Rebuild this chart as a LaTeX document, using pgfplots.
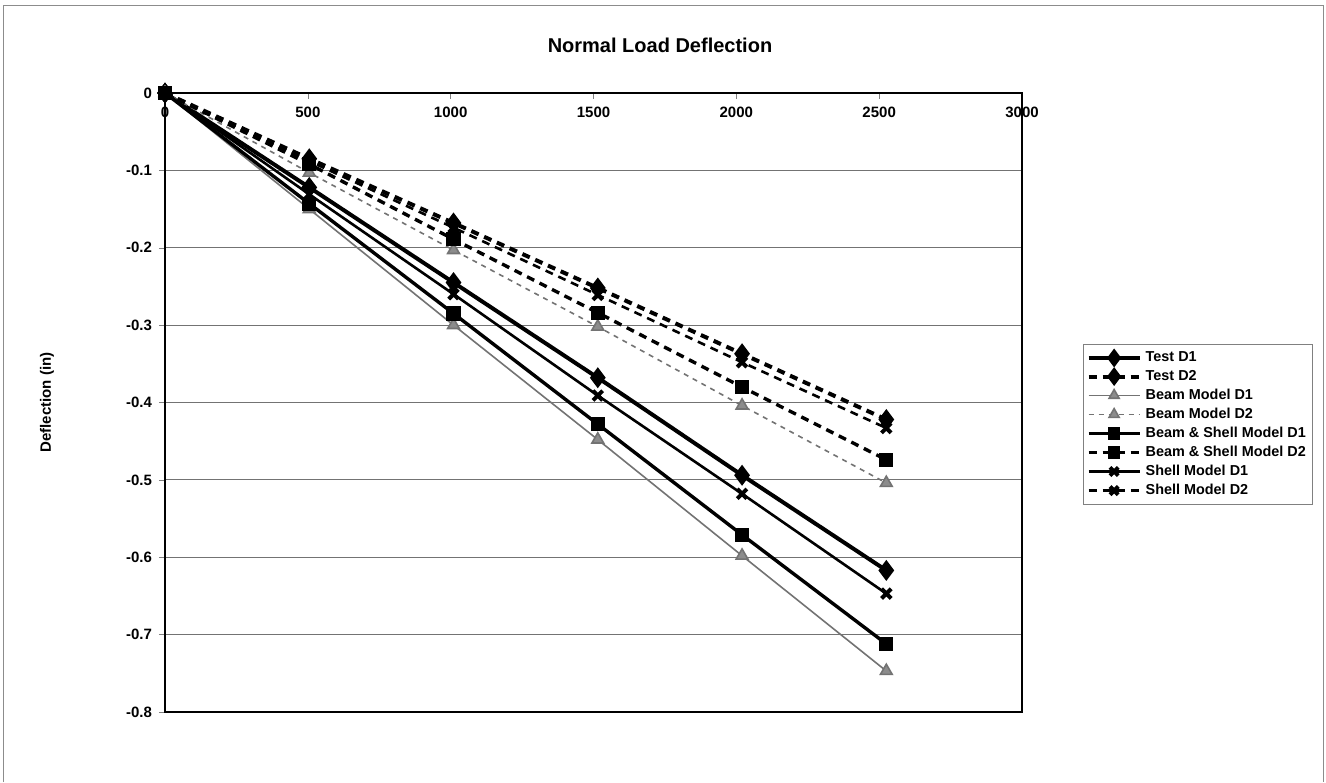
\documentclass[border=0pt]{standalone}
\usepackage{fontspec}
\setmainfont{Liberation Sans}
\usepackage{pgfplots}
\pgfplotsset{compat=1.18}

% load (lb) vs deflection (in)
\pgfplotstableread{
x     tD1     tD2     bD1     bD2     bsD1    bsD2    sD1     sD2
0     0       0       0       0       0       0       0       0
505   -0.122  -0.085  -0.150  -0.103  -0.143  -0.092  -0.131  -0.088
1010  -0.245  -0.168  -0.300  -0.203  -0.285  -0.189  -0.260  -0.174
1515  -0.368  -0.252  -0.448  -0.302  -0.428  -0.284  -0.391  -0.261
2020  -0.494  -0.337  -0.598  -0.404  -0.571  -0.380  -0.518  -0.348
2525  -0.617  -0.422  -0.747  -0.504  -0.712  -0.474  -0.647  -0.433
}\deflections

\begin{document}
\begin{tikzpicture}[font=\bfseries]
  \useasboundingbox (0,0) rectangle (663pt,391pt);
  % outer chart border
  \draw[black!45, line width=0.5pt] (1.5pt,0pt) -- (1.5pt,388pt) -- (661.5pt,388pt) -- (661.5pt,0pt);
  \begin{axis}[
      at={(82.5pt,35pt)}, anchor=south west,
      scale only axis,
      width=428.5pt, height=309.5pt,
      xmin=0, xmax=3000, ymin=-0.8, ymax=0,
      xtick={0,500,...,3000},
      ytick={-0.8,-0.7,...,0},
      yticklabels={-0.8,-0.7,-0.6,-0.5,-0.4,-0.3,-0.2,-0.1,0},
      xtick pos=upper, xticklabel pos=upper,
      ytick pos=left,
      x tick label style={anchor=north, yshift=-3.5pt},
      tick label style={font=\fontsize{7.5}{8}\selectfont\bfseries},
      /pgf/number format/assume math mode=true,
      /pgf/number format/1000 sep={},
      xtick align=inside, ytick align=outside,
      major tick length=3pt,
      axis line style={line width=1.3pt},
      ymajorgrids=true,
      major grid style={black!55, line width=0.5pt},
      title={Normal Load Deflection},
      every axis title/.style={at={(axis description cs:0.5776,1.0775)}, anchor=center,
        font=\fontsize{10}{12}\selectfont\bfseries},
      ylabel={Deflection (in)},
      every axis y label/.style={at={(axis description cs:-0.1377,0.5)},
        rotate=90, anchor=center, font=\fontsize{7.5}{9}\selectfont\bfseries},
      legend style={at={(1.0712,0.5945)}, anchor=north west,
        draw=black!50, line width=0.5pt,
        font=\fontsize{7.2}{8}\selectfont\bfseries,
        row sep=-1.2pt, inner sep=1.5pt,
        cells={anchor=west}},
      legend image code/.code={%
        \draw[mark repeat=2, mark phase=2, #1, every mark/.append style={solid, scale=0.85}]
          plot coordinates {(0cm,0cm) (0.45cm,0cm) (0.9cm,0cm)};},
      clip=false,
    ]
    \addplot[black, line width=2pt, mark=diamond*, mark size=3.6pt,
      mark options={solid}] table[x=x, y=tD1] {\deflections};
    \addlegendentry{Test D1}
    \addplot[black, line width=2pt, dash pattern=on 4pt off 3pt, mark=diamond*,
      mark size=3.6pt, mark options={solid}] table[x=x, y=tD2] {\deflections};
    \addlegendentry{Test D2}
    \addplot[black!55, line width=0.8pt, mark=triangle*, mark size=3.4pt,
      mark options={solid, fill=black!45, draw=black!55}] table[x=x, y=bD1] {\deflections};
    \addlegendentry{Beam Model D1}
    \addplot[black!55, line width=0.8pt, dash pattern=on 2.5pt off 2.5pt, mark=triangle*,
      mark size=3.4pt, mark options={solid, fill=black!45, draw=black!55}] table[x=x, y=bD2] {\deflections};
    \addlegendentry{Beam Model D2}
    \addplot[black, line width=1.7pt, mark=square*, mark size=2.7pt,
      mark options={solid}] table[x=x, y=bsD1] {\deflections};
    \addlegendentry{Beam \& Shell Model D1}
    \addplot[black, line width=1.7pt, dash pattern=on 4pt off 3pt, mark=square*,
      mark size=2.7pt, mark options={solid}] table[x=x, y=bsD2] {\deflections};
    \addlegendentry{Beam \& Shell Model D2}
    \addplot[black, line width=1.3pt, mark=x, mark size=3.4pt,
      mark options={solid, line width=2pt}] table[x=x, y=sD1] {\deflections};
    \addlegendentry{Shell Model D1}
    \addplot[black, line width=1.3pt, dash pattern=on 4pt off 3pt, mark=x,
      mark size=3.4pt, mark options={solid, line width=2pt}] table[x=x, y=sD2] {\deflections};
    \addlegendentry{Shell Model D2}
  \end{axis}
\end{tikzpicture}
\end{document}
